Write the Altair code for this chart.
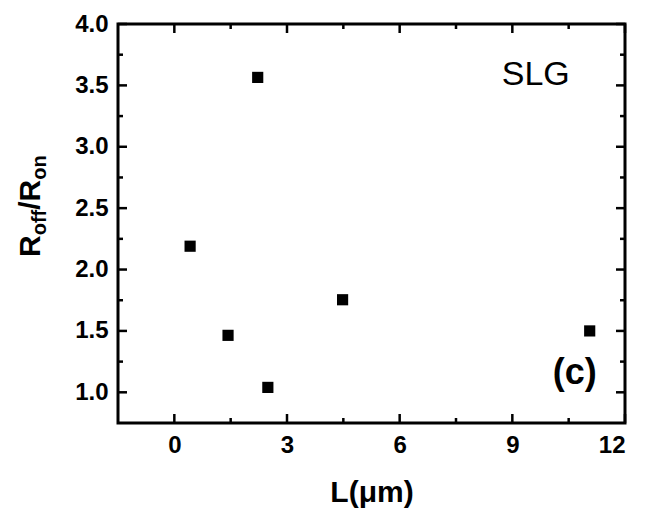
import altair as alt
import pandas as pd

# Data
L_um = [0.42, 2.22, 1.43, 2.49, 4.48, 11.06]
ratio = [2.19, 3.565, 1.464, 1.04, 1.754, 1.50]

x_major = [0, 3, 6, 9, 12]
x_minor = [1.5, 4.5, 7.5, 10.5]
y_major = [1.0, 1.5, 2.0, 2.5, 3.0, 3.5, 4.0]
y_minor = [1.25, 1.75, 2.25, 2.75, 3.25, 3.75]

W, H = 507, 399
FONT = "Liberation Sans"

df = pd.DataFrame({"L": L_um, "R": ratio})
xs = alt.Scale(domain=[-1.5, 12], nice=False, zero=False)
ys = alt.Scale(domain=[0.75, 4.0], nice=False, zero=False)

points = alt.Chart(df).mark_square(size=125, color="black", opacity=1).encode(
    x=alt.X("L:Q", scale=xs, axis=alt.Axis(
        values=x_major, format="d", labelFont=FONT, labelFontSize=24,
        labelFontWeight="bold", labelColor="black", labelPadding=10,
        title="L(μm)", titleFont=FONT, titleFontSize=30, titleFontWeight="bold",
        titleColor="black", titlePadding=20)),
    y=alt.Y("R:Q", scale=ys, axis=alt.Axis(
        values=y_major, format=".1f", labelFont=FONT, labelFontSize=24,
        labelFontWeight="bold", labelColor="black", labelPadding=10, title=None)),
)

xmaj = pd.DataFrame({"v": x_major})
xmin = pd.DataFrame({"v": x_minor})
ymaj = pd.DataFrame({"v": y_major})
ymin = pd.DataFrame({"v": y_minor})

def xticks(d, length):
    b = alt.Chart(d).mark_rule(color="black", strokeWidth=2.5).encode(
        x=alt.X("v:Q", scale=xs), y=alt.value(H), y2=alt.value(H - length))
    t = alt.Chart(d).mark_rule(color="black", strokeWidth=2.5).encode(
        x=alt.X("v:Q", scale=xs), y=alt.value(0), y2=alt.value(length))
    return b + t

def yticks(d, length):
    l = alt.Chart(d).mark_rule(color="black", strokeWidth=2.5).encode(
        y=alt.Y("v:Q", scale=ys), x=alt.value(0), x2=alt.value(length))
    r = alt.Chart(d).mark_rule(color="black", strokeWidth=2.5).encode(
        y=alt.Y("v:Q", scale=ys), x=alt.value(W), x2=alt.value(W - length))
    return l + r

def label(text, x, y, size, weight="normal", align="left", angle=0):
    return alt.Chart(pd.DataFrame({"t": [text]})).mark_text(
        font=FONT, fontSize=size, fontWeight=weight, align=align,
        baseline="alphabetic", angle=angle, color="black").encode(
        x=alt.value(x), y=alt.value(y), text="t:N")

# y-axis title with subscripts: R_off / R_on (rotated)
bx = -78
ytitle = (
    label("R", bx, 233, 30, "bold", angle=270)
    + label("off", bx + 6, 211.3, 20, "bold", angle=270)
    + label("/", bx, 185.8, 30, "bold", angle=270)
    + label("R", bx, 177.5, 30, "bold", angle=270)
    + label("on", bx + 6, 155.8, 20, "bold", angle=270)
)

annot = label("SLG", 383.7, 61, 34) + label("(c)", 478.7, 360, 36, "bold", align="right")

chart = alt.layer(
    points,
    xticks(xmaj, 9), xticks(xmin, 5),
    yticks(ymaj, 9), yticks(ymin, 5),
    ytitle, annot,
).properties(
    width=W, height=H,
    autosize=alt.AutoSizeParams(type="none"),
    padding={"left": 118, "top": 24, "right": 21, "bottom": 96},
    background="white",
).configure_view(stroke="black", strokeWidth=3).configure_axis(
    domain=False, grid=False, ticks=False)

chart.save("out.html", embed_options={"renderer": "svg", "actions": False})
